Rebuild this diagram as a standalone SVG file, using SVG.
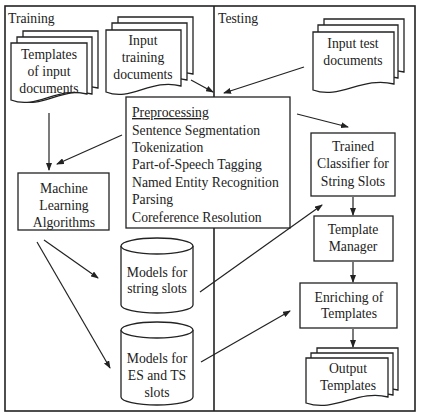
<svg xmlns="http://www.w3.org/2000/svg" width="422" height="414" viewBox="0 0 422 414">
<style>
.b{fill:#fff;stroke:#222;stroke-width:1.3}
.t{font-family:"Liberation Serif","Times New Roman",serif;font-size:13.7px;fill:#222}
.c{text-anchor:middle}
.e{stroke:#222;stroke-width:1.2;fill:none;marker-end:url(#ah)}
</style>
<defs>
<marker id="ah" markerWidth="8" markerHeight="6" refX="7" refY="3" orient="auto" markerUnits="userSpaceOnUse">
<path d="M0,0 L8,3 L0,6 Z" fill="#222"/>
</marker>
</defs>
<rect x="0" y="0" width="422" height="414" fill="#fff"/>
<g id="frame">
<rect x="5" y="6" width="410" height="405" fill="none" stroke="#222" stroke-width="1.6"/>
<line x1="214" y1="6" x2="214" y2="411" stroke="#222" stroke-width="1.6"/>
<text class="t" x="8" y="23">Training</text>
<text class="t" x="218" y="23">Testing</text>
</g>
<g id="templates">
<path class="b" d="M23,31 H98 V88 C68,80 48,104 23,94 Z"/>
<path class="b" d="M17,37 H92 V94 C62,86 42,110 17,100 Z"/>
<path class="b" d="M11,43 H87 V94 C57,86 37,110 11,100 Z"/>
<text class="t c" x="49" y="59">Templates</text>
<text class="t c" x="49" y="76">of input</text>
<text class="t c" x="49" y="93">documents</text>
</g>
<g id="input-training">
<path class="b" d="M118,17 H193 V74 C163,66 143,90 118,80 Z"/>
<path class="b" d="M112,23 H187 V80 C157,72 137,96 112,86 Z"/>
<path class="b" d="M106,30 H181 V86 C151,78 131,102 106,92 Z"/>
<text class="t c" x="143" y="45">Input</text>
<text class="t c" x="143" y="62">training</text>
<text class="t c" x="143" y="79">documents</text>
</g>
<g id="input-test">
<path class="b" d="M324,19 H404 V72 C372,64 350,88 324,78 Z"/>
<path class="b" d="M318,25 H398 V78 C366,70 344,94 318,84 Z"/>
<path class="b" d="M313,32 H394 V84 C362,76 340,100 313,90 Z"/>
<text class="t c" x="353" y="48">Input  test</text>
<text class="t c" x="353" y="65">documents</text>
</g>
<g id="preprocessing">
<rect class="b" x="126" y="97" width="164" height="131"/>
<text class="t" x="132" y="117" text-decoration="underline">Preprocessing</text>
<text class="t" x="132" y="135">Sentence Segmentation</text>
<text class="t" x="132" y="152">Tokenization</text>
<text class="t" x="132" y="169">Part-of-Speech Tagging</text>
<text class="t" x="132" y="187">Named Entity Recognition</text>
<text class="t" x="132" y="204">Parsing</text>
<text class="t" x="132" y="222">Coreference Resolution</text>
</g>
<g id="ml">
<rect class="b" x="18" y="173" width="91" height="57"/>
<text class="t c" x="64" y="193">Machine</text>
<text class="t c" x="64" y="210">Learning</text>
<text class="t c" x="64" y="227">Algorithms</text>
</g>
<g id="classifier">
<rect class="b" x="311" y="133" width="84" height="63"/>
<text class="t c" x="353" y="151">Trained</text>
<text class="t c" x="353" y="168">Classifier for</text>
<text class="t c" x="353" y="186">String Slots</text>
</g>
<g id="manager">
<rect class="b" x="314" y="216" width="79" height="45"/>
<text class="t c" x="353" y="234">Template</text>
<text class="t c" x="353" y="251">Manager</text>
</g>
<g id="enriching">
<rect class="b" x="300" y="283" width="97" height="45"/>
<text class="t c" x="349" y="302">Enriching of</text>
<text class="t c" x="349" y="318">Templates</text>
</g>
<g id="output">
<path class="b" d="M317,348 H398 V390 C368,382 345,406 317,396 Z"/>
<path class="b" d="M311,353 H393 V395 C363,387 340,411 311,401 Z"/>
<path class="b" d="M306,358 H388 V397 C358,389 335,413 306,403 Z"/>
<text class="t c" x="348" y="373">Output</text>
<text class="t c" x="348" y="390">Templates</text>
</g>
<g id="models-string">
<path class="b" d="M121,246 V305 A36,8 0 0 0 193,305 V246"/>
<ellipse class="b" cx="157" cy="246" rx="36" ry="8"/>
<text class="t c" x="157" y="277">Models for</text>
<text class="t c" x="157" y="293">string slots</text>
</g>
<g id="models-es">
<path class="b" d="M121,330 V397 A36,8 0 0 0 193,397 V330"/>
<ellipse class="b" cx="157" cy="330" rx="36" ry="8"/>
<text class="t c" x="157" y="363">Models for</text>
<text class="t c" x="157" y="380">ES and TS</text>
<text class="t c" x="157" y="397">slots</text>
</g>
<g id="connectors">
<line class="e" x1="49" y1="113" x2="49" y2="170"/>
<line class="e" x1="122" y1="135" x2="57" y2="164"/>
<line class="e" x1="191" y1="80" x2="213" y2="92"/>
<line class="e" x1="304" y1="67" x2="224" y2="93"/>
<line class="e" x1="297" y1="114" x2="348" y2="127"/>
<line class="e" x1="353" y1="197" x2="353" y2="215"/>
<line class="e" x1="353" y1="262" x2="353" y2="282"/>
<line class="e" x1="353" y1="329" x2="353" y2="347"/>
<line class="e" x1="44" y1="240" x2="98" y2="278"/>
<line class="e" x1="37" y1="242" x2="110" y2="368"/>
<line class="e" x1="200" y1="292" x2="322" y2="205"/>
<line class="e" x1="201" y1="362" x2="290" y2="311"/>
</g>
</svg>
